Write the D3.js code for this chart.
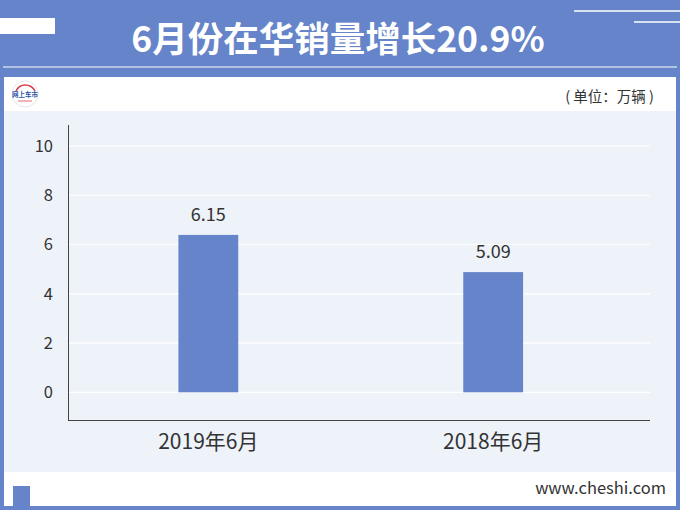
<!DOCTYPE html>
<html><head><meta charset="utf-8">
<script src="https://cdn.jsdelivr.net/npm/d3@7"></script>
<style>html,body{margin:0;padding:0;background:#fff;}svg{display:block;}</style>
</head><body>
<div id="chart"></div>
<script>
// ---- data ----
const categories = ["2019年6月", "2018年6月"];
const barHeights = [6.39, 4.88];          // bar heights as drawn in the picture
const valueLabels = ["6.15", "5.09"];     // data labels printed above the bars
const yTicks = [0, 2, 4, 6, 8, 10];
const titleText = "6月份在华销量增长20.9%";
const unitText = "( 单位：万辆 )";
const sourceText = "www.cheshi.com";

const W = 680, H = 510;
const blue = "#6584c9";
const font = "'Noto Sans CJK SC','Noto Sans',sans-serif";

const svg = d3.select("#chart").append("svg").attr("width", W).attr("height", H);

// background
svg.append("rect").attr("width", W).attr("height", H).attr("fill", blue);
// header decorations
svg.append("rect").attr("x", 0).attr("y", 18).attr("width", 55).attr("height", 16).attr("fill", "#fff");
svg.append("line").attr("x1", 574).attr("x2", 680).attr("y1", 11).attr("y2", 11).attr("stroke", "#fff").attr("stroke-width", 1.5);
svg.append("line").attr("x1", 634).attr("x2", 680).attr("y1", 22).attr("y2", 22).attr("stroke", "#fff").attr("stroke-width", 1.5);
svg.append("line").attr("x1", 3).attr("x2", 677).attr("y1", 67).attr("y2", 67).attr("stroke", "#fff").attr("stroke-width", 1);
svg.append("text").attr("x", 338).attr("y", 52).attr("text-anchor", "middle")
  .attr("font-family", font).attr("font-weight", "bold").attr("font-size", 35.5)
  .attr("fill", "#fff").text(titleText);

// white panel
svg.append("rect").attr("x", 4).attr("y", 77).attr("width", 672).attr("height", 429).attr("fill", "#fff");
// plot background
svg.append("rect").attr("x", 4).attr("y", 111).attr("width", 672).attr("height", 361).attr("fill", "#eef2f9");

// logo
const logo = svg.append("g").attr("transform", "translate(25,94)");
logo.append("circle").attr("r", 13).attr("fill", "#fff").attr("stroke", "#e6e6ea").attr("stroke-width", 1);
logo.append("path").attr("d", "M-9,-3 Q-6,-9 0,-9 Q7,-9 10,-3").attr("fill", "none").attr("stroke", "#d9434f").attr("stroke-width", 1.6);
logo.append("text").attr("x", 0).attr("y", 3).attr("text-anchor", "middle").attr("font-family", font)
  .attr("font-size", 6.5).attr("font-weight", "bold").attr("fill", "#2c55a8").text("网上车市");
logo.append("line").attr("x1", -7).attr("x2", 7).attr("y1", 7).attr("y2", 7).attr("stroke", "#d9434f").attr("stroke-width", 0.8);

// unit
svg.append("text").attr("x", 654).attr("y", 102).attr("text-anchor", "end").attr("font-family", font)
  .attr("font-size", 14.5).attr("fill", "#333").text(unitText);

// scales
const y = d3.scaleLinear().domain([0, 10]).range([392.3, 146]);
const x = d3.scaleBand().domain(categories).range([64.5, 637]).paddingInner(0.79).paddingOuter(0.4);

// gridlines
svg.append("g").selectAll("line").data(yTicks).join("line")
  .attr("x1", 68).attr("x2", 650).attr("y1", d => y(d)).attr("y2", d => y(d))
  .attr("stroke", "#fff").attr("stroke-width", 1.2);

// y axis
const yAxis = svg.append("g").attr("transform", "translate(68,0)")
  .call(d3.axisLeft(y).tickValues(yTicks).tickSize(0).tickPadding(15).tickFormat(d3.format("d")));
yAxis.select(".domain").remove();
yAxis.selectAll("text").attr("font-family", font).attr("font-size", 16.5).attr("fill", "#333");
svg.append("line").attr("x1", 68.5).attr("x2", 68.5).attr("y1", 125).attr("y2", 420).attr("stroke", "#444").attr("stroke-width", 1);

// bars
svg.append("g").selectAll("rect").data(categories).join("rect")
  .attr("x", d => x(d)).attr("width", x.bandwidth())
  .attr("y", (d, i) => y(barHeights[i])).attr("height", (d, i) => y(0) - y(barHeights[i]))
  .attr("fill", blue);

// value labels
svg.append("g").selectAll("text").data(categories).join("text")
  .attr("x", d => x(d) + x.bandwidth() / 2).attr("y", (d, i) => y(barHeights[i]) - 14)
  .attr("text-anchor", "middle").attr("font-family", font).attr("font-size", 18).attr("fill", "#333")
  .text((d, i) => valueLabels[i]);

// x axis
const xAxis = svg.append("g").attr("transform", "translate(0,420)")
  .call(d3.axisBottom(x).tickSize(0).tickPadding(14));
xAxis.select(".domain").remove();
xAxis.selectAll("text").attr("font-family", font).attr("font-size", 21).attr("fill", "#333");
svg.append("line").attr("x1", 68).attr("x2", 650).attr("y1", 420.5).attr("y2", 420.5).attr("stroke", "#444").attr("stroke-width", 1);

// footer
svg.append("rect").attr("x", 13).attr("y", 486).attr("width", 17).attr("height", 20).attr("fill", blue);
svg.append("text").attr("x", 666).attr("y", 494).attr("text-anchor", "end").attr("font-family", font)
  .attr("font-size", 16.5).attr("fill", "#333").text(sourceText);
</script>
</body></html>
